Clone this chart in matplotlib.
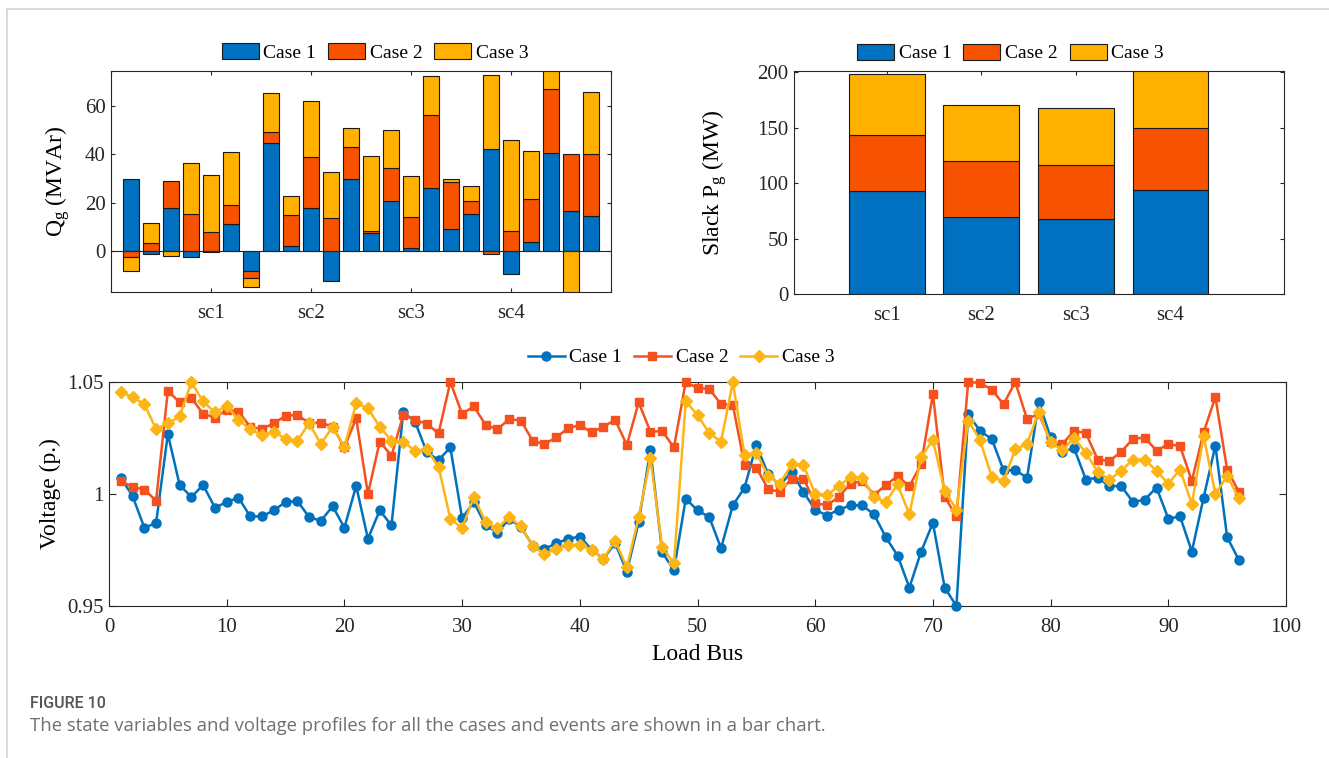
import numpy as np
import matplotlib
matplotlib.use("Agg")
import matplotlib.pyplot as plt
from matplotlib.lines import Line2D

# ---- data ----
case_names = ["Case 1", "Case 2", "Case 3"]
sc_labels = ["sc1", "sc2", "sc3", "sc4"]

# reactive power of the 24 generator bars (MVAr)
qg_case1 = [29.7, -1.4, 18.0, -2.6, -0.3, 11.1, -8.3, 44.8, 1.9, 18.0, -12.2, 29.8,
            7.3, 20.5, 1.4, 26.1, 9.1, 15.5, 42.0, -9.5, 3.9, 40.7, 16.4, 14.6]
qg_case2 = [-2.3, 3.2, 11.0, 15.3, 7.7, 8.0, -3.0, 4.3, 13.2, 20.9, 13.8, 13.0,
            1.1, 13.9, 12.8, 30.3, 19.5, 5.4, -1.0, 8.3, 17.8, 26.2, 23.6, 25.4]
qg_case3 = [-6.1, 8.6, -1.9, 20.9, 23.9, 21.8, -3.4, 16.2, 7.5, 23.0, 18.7, 8.1,
            30.9, 15.5, 17.0, 16.0, 1.2, 6.1, 30.6, 37.8, 19.6, 10.0, -20.0, 25.7]

# slack generator active power (MW)
pg_case1 = [93.0, 69.6, 67.2, 93.9]
pg_case2 = [50.1, 50.1, 49.2, 55.8]
pg_case3 = [54.9, 50.7, 51.6, 55.0]

# load bus voltages (p.u.)
v_case1 = [1.0073, 0.9991, 0.9850, 0.9870, 1.0268, 1.0040, 0.9987, 1.0040, 0.9939, 0.9964,
           0.9984, 0.9900, 0.9900, 0.9927, 0.9964, 0.9969, 0.9897, 0.9880, 0.9945, 0.9850,
           1.0036, 0.9800, 0.9927, 0.9860, 1.0365, 1.0323, 1.0187, 1.0151, 1.0208, 0.9892,
           0.9964, 0.9860, 0.9827, 0.9890, 0.9852, 0.9770, 0.9755, 0.9780, 0.9800, 0.9810,
           0.9752, 0.9710, 0.9780, 0.9654, 0.9874, 1.0196, 0.9740, 0.9660, 0.9979, 0.9927,
           0.9897, 0.9758, 0.9949, 1.0029, 1.0219, 1.0088, 1.0039, 1.0099, 1.0009, 0.9930,
           0.9904, 0.9930, 0.9949, 0.9949, 0.9909, 0.9807, 0.9725, 0.9582, 0.9743, 0.9871,
           0.9582, 0.9500, 1.0358, 1.0281, 1.0246, 1.0106, 1.0106, 1.0073, 1.0410, 1.0253,
           1.0189, 1.0204, 1.0064, 1.0073, 1.0035, 1.0036, 0.9964, 0.9975, 1.0029, 0.9890,
           0.9900, 0.9743, 0.9984, 1.0216, 0.9807, 0.9705]
v_case2 = [1.0058, 1.0031, 1.0020, 0.9970, 1.0461, 1.0409, 1.0428, 1.0358, 1.0341, 1.0376,
           1.0368, 1.0300, 1.0290, 1.0316, 1.0349, 1.0353, 1.0316, 1.0319, 1.0300, 1.0208,
           1.0338, 1.0000, 1.0234, 1.0171, 1.0353, 1.0331, 1.0313, 1.0271, 1.0500, 1.0358,
           1.0391, 1.0308, 1.0289, 1.0334, 1.0328, 1.0237, 1.0223, 1.0253, 1.0293, 1.0308,
           1.0275, 1.0300, 1.0331, 1.0219, 1.0409, 1.0278, 1.0281, 1.0208, 1.0500, 1.0473,
           1.0469, 1.0401, 1.0398, 1.0129, 1.0118, 1.0022, 1.0009, 1.0069, 1.0069, 0.9960,
           0.9949, 0.9987, 1.0046, 1.0058, 0.9997, 1.0039, 1.0080, 1.0035, 1.0133, 1.0446,
           0.9987, 0.9900, 1.0500, 1.0496, 1.0466, 1.0401, 1.0500, 1.0334, 1.0358, 1.0234,
           1.0223, 1.0283, 1.0271, 1.0154, 1.0147, 1.0189, 1.0246, 1.0252, 1.0193, 1.0223,
           1.0214, 1.0058, 1.0275, 1.0433, 1.0109, 1.0009]
v_case3 = [1.0454, 1.0433, 1.0401, 1.0290, 1.0316, 1.0346, 1.0499, 1.0413, 1.0364, 1.0394,
           1.0331, 1.0289, 1.0262, 1.0278, 1.0246, 1.0237, 1.0316, 1.0223, 1.0300, 1.0208,
           1.0406, 1.0383, 1.0300, 1.0238, 1.0234, 1.0193, 1.0200, 1.0121, 0.9890, 0.9847,
           0.9988, 0.9874, 0.9847, 0.9897, 0.9855, 0.9767, 0.9732, 0.9755, 0.9773, 0.9773,
           0.9752, 0.9710, 0.9792, 0.9672, 0.9897, 1.0159, 0.9762, 0.9690, 1.0413, 1.0353,
           1.0271, 1.0234, 1.0499, 1.0174, 1.0184, 1.0080, 1.0046, 1.0133, 1.0129, 1.0000,
           0.9996, 1.0035, 1.0076, 1.0073, 0.9987, 0.9964, 1.0043, 0.9909, 1.0165, 1.0241,
           1.0015, 0.9930, 1.0328, 1.0241, 1.0076, 1.0058, 1.0199, 1.0223, 1.0368, 1.0231,
           1.0196, 1.0249, 1.0184, 1.0099, 1.0064, 1.0103, 1.0154, 1.0154, 1.0103, 1.0046,
           1.0109, 0.9955, 1.0259, 1.0000, 1.0080, 0.9981]

colors = ["#0070C0", "#F75200", "#FFB000"]
line_colors = ["#0072BD", "#F4511E", "#FDB515"]
markers = ["o", "s", "D"]

plt.rcParams["font.family"] = ["Liberation Serif", "DejaVu Serif"]
plt.rcParams["mathtext.fontset"] = "custom"
plt.rcParams["mathtext.rm"] = "Liberation Serif"
plt.rcParams["mathtext.it"] = "Liberation Serif:italic"
plt.rcParams["axes.edgecolor"] = "#262626"
plt.rcParams["axes.linewidth"] = 0.8
plt.rcParams["xtick.color"] = "#262626"
plt.rcParams["ytick.color"] = "#262626"

W, H = 1329, 758
fig = plt.figure(figsize=(W / 100, H / 100), dpi=100)


def px_box(left, top, right, bottom):
    return [left / W, 1 - bottom / H, (right - left) / W, (bottom - top) / H]


def style_axes(ax, ticklen):
    ax.tick_params(direction="in", top=True, right=True, length=ticklen,
                   width=0.8, labelsize=15)
    ax.tick_params(axis="y", pad=4)
    ax.tick_params(axis="x", pad=9)


def stacked(ax, x, series, width):
    # MATLAB-like stacking: positives up from 0, negatives down from 0
    pos = np.zeros(len(x))
    neg = np.zeros(len(x))
    for vals, c, name in zip(series, colors, case_names):
        vals = np.asarray(vals, dtype=float)
        bottom = np.where(vals >= 0, pos, neg)
        ax.bar(x, vals, width, bottom=bottom, color=c, edgecolor="#1a1a1a",
               linewidth=0.8, label=name, zorder=2)
        pos = pos + np.where(vals >= 0, vals, 0)
        neg = neg + np.where(vals < 0, vals, 0)


# --- top-left: Qg ---
ax1 = fig.add_axes(px_box(111, 71, 611, 292))
gx = np.arange(1, len(qg_case1) + 1)
stacked(ax1, gx, [qg_case1, qg_case2, qg_case3], 0.8)
ax1.axhline(0, color="#262626", lw=0.8, zorder=3)
ax1.set_xlim(0, 25)
ax1.set_ylim(-16.9, 74.4)
ax1.set_xticks([0, 5, 10, 15, 20, 25])
ax1.set_xticklabels([""] + sc_labels + [""])
ax1.set_yticks([0, 20, 40, 60])
style_axes(ax1, 3.2)
ax1.set_ylabel(r"Q$_{\mathrm{g}}$ (MVAr)", fontsize=17, labelpad=9)
ax1.legend(loc="center", bbox_to_anchor=(0.528, 1.084), ncol=3, frameon=False,
           fontsize=14, handlelength=1.9, handleheight=0.9, handletextpad=0.25,
           columnspacing=0.6, borderpad=0)

# --- top-right: slack Pg ---
ax2 = fig.add_axes(px_box(794, 71, 1284, 294))
sx = np.arange(1, len(sc_labels) + 1)
stacked(ax2, sx, [pg_case1, pg_case2, pg_case3], 0.8)
ax2.set_xlim(0.02, 5.2)
ax2.set_ylim(0, 201)
ax2.set_xticks(sx)
ax2.set_xticklabels(sc_labels)
ax2.set_yticks([0, 50, 100, 150, 200])
style_axes(ax2, 3.2)
ax2.set_ylabel(r"Slack P$_{\mathrm{g}}$ (MW)", fontsize=17, labelpad=20)
ax2.legend(loc="center", bbox_to_anchor=(0.442, 1.081), ncol=3, frameon=False,
           fontsize=14, handlelength=1.9, handleheight=0.9, handletextpad=0.25,
           columnspacing=0.6, borderpad=0)

# --- bottom: voltage profile ---
ax3 = fig.add_axes(px_box(109, 382, 1286, 606))
bus = np.arange(1, len(v_case1) + 1)
for vals, c, m, name in zip([v_case1, v_case2, v_case3], line_colors, markers, case_names):
    ms = {"o": 6.5, "s": 5.5, "D": 6}[m]
    ax3.plot(bus, vals, color=c, marker=m, markersize=ms, lw=1.8, label=name,
             clip_on=False, zorder=3)
ax3.set_xlim(0, 100)
ax3.set_ylim(0.95, 1.05)
ax3.set_xticks(np.arange(0, 101, 10))
ax3.set_yticks([0.95, 1.0, 1.05])
ax3.set_yticklabels(["0.95", "1", "1.05"])
style_axes(ax3, 5)
ax3.set_xlabel("Load Bus", fontsize=17, labelpad=5)
ax3.set_ylabel("Voltage (p.)", fontsize=17, labelpad=4)
ax3.legend(loc="center", bbox_to_anchor=(0.486, 1.109), ncol=3, frameon=False,
           fontsize=14, handlelength=1.9, handletextpad=0.25, columnspacing=0.6,
           borderpad=0)

# --- page frame and caption ---
fig.add_artist(Line2D([7 / W, 1], [1 - 9 / H, 1 - 9 / H], color="#d4d4d4", lw=1.2))
fig.add_artist(Line2D([7 / W, 7 / W], [0, 1 - 9 / H], color="#d4d4d4", lw=1.2))
fig.text(30 / W, 1 - 703 / H, "FIGURE 10", fontsize=11.5, color="#555555",
         family=["Roboto", "DejaVu Sans"], weight="medium", va="center")
fig.text(30 / W, 1 - 726 / H,
         "The state variables and voltage profiles for all the cases and events are shown in a bar chart.",
         fontsize=13.3, color="#707070", family=["Open Sans", "DejaVu Sans"], va="center")

fig.savefig("out.png", dpi=100, facecolor="white")
